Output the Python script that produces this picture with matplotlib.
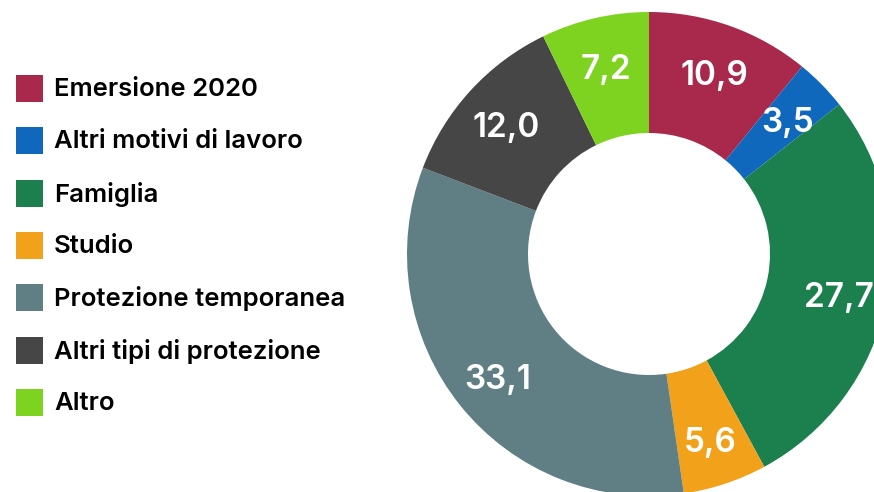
import matplotlib
matplotlib.use("Agg")
import matplotlib.pyplot as plt
from matplotlib.patches import Rectangle
import numpy as np

categories = ["Emersione 2020", "Altri motivi di lavoro", "Famiglia", "Studio",
              "Protezione temporanea", "Altri tipi di protezione", "Altro"]
values = [10.9, 3.5, 27.7, 5.6, 33.1, 12.0, 7.2]
value_labels = ["10,9", "3,5", "27,7", "5,6", "33,1", "12,0", "7,2"]
colors = ["#A8294B", "#1068BC", "#1C7F4E", "#F2A11A", "#607F84", "#464646", "#7ED321"]

W, H = 874, 492
fig = plt.figure(figsize=(W / 100, H / 100), dpi=100)
fig.patch.set_facecolor("white")
plt.rcParams['font.family'] = ['Inter', 'DejaVu Sans']

# donut
cx, cy, R = 649, 254, 242
ax = fig.add_axes([(cx - R) / W, (H - cy - R) / H, 2 * R / W, 2 * R / H])
wedges, _ = ax.pie(values, colors=colors, startangle=90, counterclock=False,
                   radius=1.0, wedgeprops=dict(width=0.5, linewidth=0))
cum = np.cumsum([0] + values[:-1])
total = sum(values)
for v, c0, lab in zip(values, cum, value_labels):
    ang = np.deg2rad(90 - (c0 + v / 2) / total * 360)
    r = 0.8
    ax.text(r * np.cos(ang), r * np.sin(ang) - 0.02, lab, ha="center", va="center",
            color="white", fontsize=24, fontweight="semibold")
ax.set_xlim(-1, 1)
ax.set_ylim(-1, 1)
ax.set_aspect("equal")
ax.axis("off")

# legend
lax = fig.add_axes([0, 0, 1, 1])
lax.set_xlim(0, W)
lax.set_ylim(H, 0)
lax.axis("off")
y0, dy = 88.5, 52.3
for i, (cat, col) in enumerate(zip(categories, colors)):
    y = y0 + i * dy
    lax.add_patch(Rectangle((16, y - 13.5), 27, 27, facecolor=col, edgecolor="none"))
    lax.text(54, y + 1, cat, ha="left", va="center", fontsize=18.5,
             fontweight="semibold", color="black")
lax.set_zorder(-1)

fig.savefig("out.png", dpi=100, facecolor="white")
